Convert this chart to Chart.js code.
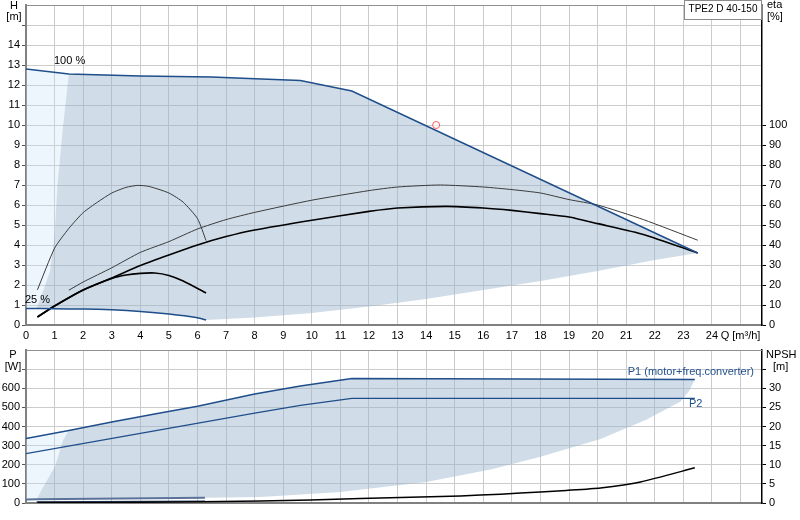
<!DOCTYPE html>
<html>
<head>
<meta charset="utf-8">
<script src="https://cdn.jsdelivr.net/npm/chart.js@4.4.1/dist/chart.umd.min.js"></script>
<style>
  html, body { margin: 0; padding: 0; background: #fff; }
  #topChart { position: absolute; left: 0; top: 0; }
  #botChart { position: absolute; left: 0; top: 345px; }
</style>
</head>
<body>
<canvas id="topChart" width="800" height="345"></canvas>
<canvas id="botChart" width="800" height="175"></canvas>
<script>
// ---- head curves (Q in m3/h, H in m) ----
const q100 = [0, 1.5, 4, 6.5, 7.8, 9.6, 11.4, 23.5];
const h100 = [12.8, 12.55, 12.45, 12.4, 12.33, 12.22, 11.7, 3.6];
const q25 = [0, 1, 2, 3, 4, 5, 6, 6.3];
const h25 = [0.83, 0.81, 0.8, 0.76, 0.68, 0.55, 0.36, 0.25];
// edges of the operating area
const qMinFlow = [0.37, 0.55, 0.84, 1.0, 1.1, 1.3, 1.5];
const hMinFlow = [0.82, 1.5, 2.7, 4.5, 7, 10, 12.55];
const qLowEdge = [6.3, 8, 10, 12, 14, 16, 18, 20, 22, 23.5];
const hLowEdge = [0.25, 0.38, 0.6, 0.92, 1.3, 1.75, 2.2, 2.7, 3.25, 3.6];
// efficiency curves (%)
const qEta100a = [1.5, 2, 3, 4, 5, 6, 7, 8, 10, 12, 13, 14.5, 16, 17, 18, 19, 20, 21.6, 23.5];
const eta100a = [17.4, 21.5, 28.6, 36.3, 41.7, 48, 52.7, 56.3, 62.4, 67.2, 69, 70, 69, 67.7, 66, 62.7, 60, 52.7, 42.4];
const qEta100b = [0.4, 1, 2, 3, 4, 5, 6, 7, 8, 10, 12, 13, 14.7, 16, 17, 18, 19, 20, 21.6, 23.5];
const eta100b = [4, 9.5, 17.5, 23.5, 29.7, 35, 40, 44.2, 47.5, 52.4, 56.8, 58.5, 59.3, 58.5, 57.3, 55.7, 54, 50.7, 45.3, 36];
const qEta25a = [0.4, 1, 1.5, 2, 2.5, 3, 3.5, 3.9, 4.3, 5, 5.5, 6, 6.3];
const eta25a = [17.6, 38.4, 48.3, 56.2, 61.4, 66, 68.8, 69.8, 69.3, 66, 61.4, 53.2, 42.2];
const qEta25b = [0.4, 1, 2, 3, 3.5, 4, 4.5, 5, 5.5, 6.3];
const eta25b = [4, 9.5, 17.5, 23.3, 25, 25.8, 26, 24.8, 22, 16];
const dutyQ = 14.35, dutyH = 10;

// ---- power (W) and NPSH (m) ----
const qP1 = [0, 1.5, 3, 4.5, 6, 8, 9.6, 11.4, 23.4];
const p1 = [337, 379, 423, 465, 506, 570, 612, 651, 646];
const qP2 = [0, 4, 8, 9.6, 11.4, 23.4];
const p2 = [258, 364, 470, 510, 547, 547];
const qP1min = [0, 0.37, 6.26];
const p1min = [18, 19, 27];
const qP2min = [0.37, 6.26];
const p2min = [6, 10];
const qPMinFlow = [0.37, 0.6, 1.01, 1.3, 1.5];
const pMinFlow = [19, 84, 190, 330, 379];
const qPLowEdge = [6.26, 8.2, 11, 14, 16.3, 18, 20.1, 21.7, 22.9, 23.2, 23.4];
const pLowEdge = [27, 32, 58, 110, 176, 242, 334, 435, 531, 585, 646];
const qNpsh = [0.4, 4, 8.2, 11.7, 15.2, 16.6, 18, 18.9, 20.1, 21.5, 23.4];
const npsh = [0.1, 0.2, 0.5, 1.15, 1.85, 2.3, 2.9, 3.3, 3.95, 5.5, 9.2];

const FONT = { family: '"Liberation Sans", Arial, sans-serif', size: 11 };
const BLUE = '#1f4e8a';
const GRID = '#cccccc';

function pts(qs, vs) { return qs.map((q, i) => ({ x: q, y: vs[i] })); }
function pick(qs, vs, test) { return pts(qs, vs).filter(p => test(p.x)); }

const topDark = [].concat(
  pick(q100, h100, q => q >= 1.5),
  pts(qLowEdge, hLowEdge).reverse(),
  pick(q25, h25, q => q > 0.37).reverse(),
  pts(qMinFlow, hMinFlow)
);
const topLight = [].concat(
  pick(q100, h100, q => q <= 1.5),
  pts(qMinFlow, hMinFlow).reverse(),
  pick(q25, h25, q => q < 0.37).reverse()
);
const botDark = [].concat(
  pick(qP1, p1, q => q >= 1.5),
  pts(qPLowEdge, pLowEdge).reverse(),
  pick(qP1min, p1min, q => q >= 0.37).reverse(),
  pts(qPMinFlow, pMinFlow)
);
const botLight = [].concat(
  pick(qP1, p1, q => q <= 1.5),
  pts(qPMinFlow, pMinFlow).reverse(),
  pick(qP1min, p1min, q => q < 0.37)
);

function line(data, color, width, axis, tension) {
  return { data, borderColor: color, borderWidth: width, pointRadius: 0, fill: false,
           tension: tension || 0, yAxisID: axis };
}
function area(data, color) {
  return { data, borderWidth: 0, borderColor: 'transparent', backgroundColor: color, pointRadius: 0, fill: 'shape', tension: 0, yAxisID: 'y' };
}

function xScale(showLabels) {
  return {
    type: 'linear', min: 0, max: 25.75,
    afterFit: s => { s.height = showLabels ? 20 : 17; s.paddingLeft = 0; s.paddingRight = 0; },
    grid: { color: GRID, drawTicks: false },
    border: { color: '#808080', width: 2 },
    ticks: { display: showLabels, stepSize: 1, includeBounds: false, padding: 4, color: '#000', font: FONT,
             maxRotation: 0, autoSkip: false,
             callback: v => v === 25 ? 'Q [m³/h]' : v }
  };
}
function leftScale(max, step, lastLabel, lastTick) {
  return {
    type: 'linear', position: 'left', min: 0, max: max,
    afterFit: s => { s.width = 26; s.paddingTop = 0; s.paddingBottom = 0; },
    grid: { color: GRID, tickLength: 4, tickColor: c => c.tick.value <= lastTick ? '#555' : 'transparent' },
    border: { color: '#808080', width: 2 },
    ticks: { stepSize: step, padding: 2, color: '#000', font: FONT, autoSkip: false,
             callback: v => v <= lastLabel ? v : '' }
  };
}
function rightScale(max, step, lastLabel, lastTick) {
  return {
    type: 'linear', position: 'right', min: 0, max: max,
    afterFit: s => { s.width = 38; s.paddingTop = 0; s.paddingBottom = 0; },
    grid: { drawOnChartArea: false, tickLength: 4, tickColor: c => c.tick.value <= lastTick ? '#000' : 'transparent' },
    border: { color: '#000', width: 1.5 },
    ticks: { stepSize: step, padding: 3, color: '#000', font: FONT, autoSkip: false,
             callback: v => v <= lastLabel ? v : '' }
  };
}

function text(ctx, str, x, y, align) {
  ctx.textAlign = align || 'left';
  ctx.textBaseline = 'middle';
  ctx.fillText(str, x, y);
}

const topTexts = {
  id: 'topTexts',
  afterDraw(chart) {
    const ctx = chart.ctx, a = chart.chartArea;
    ctx.save();
    ctx.strokeStyle = '#909090'; ctx.lineWidth = 1;
    ctx.beginPath(); ctx.moveTo(a.left, a.top + 0.5); ctx.lineTo(a.right, a.top + 0.5); ctx.stroke();
    ctx.fillStyle = '#fff'; ctx.fillRect(684.5, 0.5, 77, 19);
    ctx.strokeStyle = '#8a8a8a'; ctx.strokeRect(684.5, 0.5, 77, 19);
    ctx.fillStyle = '#000';
    ctx.font = '10px "Liberation Sans", Arial, sans-serif';
    text(ctx, 'TPE2 D 40-150', 723, 9, 'center');
    ctx.font = '11px "Liberation Sans", Arial, sans-serif';
    text(ctx, 'H', 14, 6, 'center');
    text(ctx, '[m]', 14, 17, 'center');
    text(ctx, 'eta', 767, 5);
    text(ctx, '[%]', 767, 17);
    text(ctx, '100 %', 54, 61);
    text(ctx, '25 %', 25, 300);
    ctx.restore();
  }
};
const botTexts = {
  id: 'botTexts',
  afterDraw(chart) {
    const ctx = chart.ctx, a = chart.chartArea;
    ctx.save();
    ctx.strokeStyle = '#909090'; ctx.lineWidth = 1;
    ctx.beginPath(); ctx.moveTo(a.left, a.top + 0.5); ctx.lineTo(a.right, a.top + 0.5); ctx.stroke();
    ctx.fillStyle = '#000';
    ctx.font = '11px "Liberation Sans", Arial, sans-serif';
    text(ctx, 'P', 13, 10, 'center');
    text(ctx, '[W]', 13, 22, 'center');
    text(ctx, 'NPSH', 766, 10);
    text(ctx, '[m]', 773, 22);
    ctx.fillStyle = BLUE;
    text(ctx, 'P1 (motor+freq.converter)', 754, 27, 'right');
    text(ctx, 'P2', 689, 59);
    ctx.restore();
  }
};

new Chart(document.getElementById('topChart'), {
  type: 'line',
  data: {
    datasets: [
      { data: [{ x: dutyQ, y: dutyH }], showLine: false, pointRadius: 3.5, pointBorderWidth: 1,
        pointBorderColor: '#ff5a5a', pointBackgroundColor: 'rgba(255,255,255,0.6)', yAxisID: 'y' },
      line(pts(q100, h100), BLUE, 1.5, 'y'),
      line(pts(q25, h25), BLUE, 1.5, 'y', 0.2),
      line(pts(qEta100a, eta100a), '#3a3a3a', 1, 'eta', 0.2),
      line(pts(qEta100b, eta100b), '#000', 1.6, 'eta', 0.2),
      line(pts(qEta25a, eta25a), '#3a3a3a', 1, 'eta', 0.2),
      line(pts(qEta25b, eta25b), '#000', 1.6, 'eta', 0.2),
      area(topDark, 'rgba(150,178,205,0.45)'),
      area(topLight, 'rgba(200,225,248,0.3)')
    ]
  },
  options: {
    responsive: false,
    animation: false,
    layout: { padding: 0 },
    plugins: { legend: { display: false }, tooltip: { enabled: false } },
    scales: {
      x: xScale(true),
      y: leftScale(16, 1, 14, 15),
      eta: rightScale(160, 10, 100, 100)
    }
  },
  plugins: [topTexts]
});

new Chart(document.getElementById('botChart'), {
  type: 'line',
  data: {
    datasets: [
      line(pts(qNpsh, npsh), '#000', 1.5, 'npsh', 0.2),
      line(pts(qP1, p1), BLUE, 1.5, 'y'),
      line(pts(qP2, p2), BLUE, 1.2, 'y'),
      line(pts(qP1min, p1min), '#5c7399', 2, 'y'),
      line(pts(qP2min, p2min), '#26406a', 1.2, 'y'),
      area(botDark, 'rgba(150,178,205,0.45)'),
      area(botLight, 'rgba(200,225,248,0.3)')
    ]
  },
  options: {
    responsive: false,
    animation: false,
    layout: { padding: { top: 5 } },
    plugins: { legend: { display: false }, tooltip: { enabled: false } },
    scales: {
      x: xScale(false),
      y: leftScale(800, 100, 600, 700),
      npsh: rightScale(40, 5, 30, 35)
    }
  },
  plugins: [botTexts]
});
</script>
</body>
</html>
